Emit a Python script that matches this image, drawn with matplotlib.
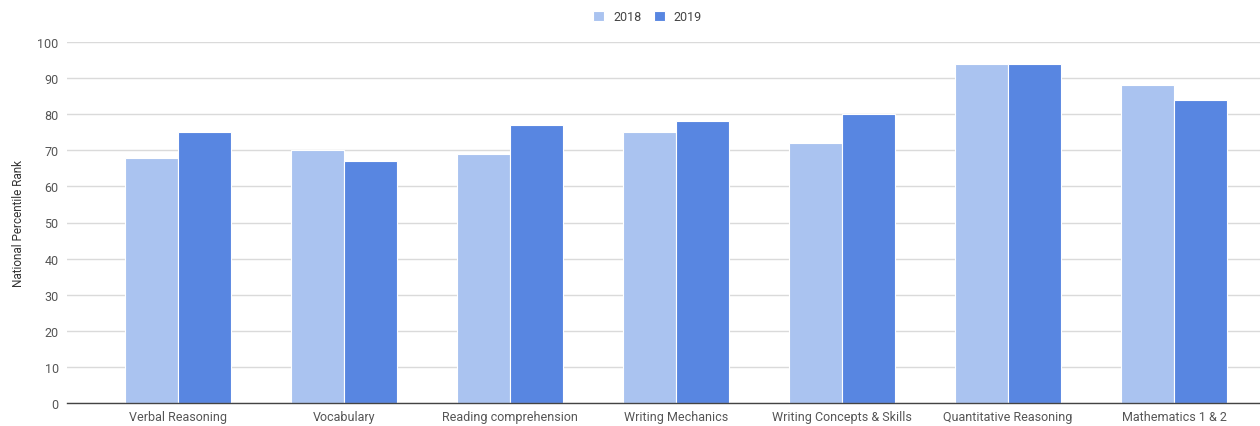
import matplotlib.pyplot as plt
import numpy as np

plt.rcParams['font.family'] = ['Roboto', 'DejaVu Sans']

categories = ["Verbal Reasoning", "Vocabulary", "Reading comprehension",
              "Writing Mechanics", "Writing Concepts & Skills",
              "Quantitative Reasoning", "Mathematics 1 & 2"]
scores_2018 = [68, 70, 69, 75, 72, 94, 88]
scores_2019 = [75, 67, 77, 78, 80, 94, 84]

c2018 = '#aac3f0'
c2019 = '#5886e1'

fig = plt.figure(figsize=(12.6, 4.27), dpi=100)
ax = fig.add_axes([67/1260, 1 - 404/427, (1260-67)/1260, (404-43)/427])

x = np.arange(len(categories))
w = 0.318
ax.bar(x - w/2, scores_2018, w, color=c2018, edgecolor='white', linewidth=0.8, label='2018', zorder=3)
ax.bar(x + w/2, scores_2019, w, color=c2019, edgecolor='white', linewidth=0.8, label='2019', zorder=3)

ax.set_xlim(-0.669, 6.518)
ax.set_ylim(0, 100)
ax.set_yticks(range(0, 101, 10))
ax.set_xticks(x)
ax.set_xticklabels(categories)
ax.grid(axis='y', color='#dadada', linewidth=1, zorder=0)
ax.tick_params(axis='both', length=0, labelsize=9, labelcolor='#555555')
ax.tick_params(axis='y', pad=6)
ax.tick_params(axis='x', pad=5)
for s in ['top', 'right', 'left']:
    ax.spines[s].set_visible(False)
ax.spines['bottom'].set_color('#444444')
ax.spines['bottom'].set_linewidth(1)
ax.spines['bottom'].set_zorder(4)

ax.set_ylabel("National Percentile Rank", fontsize=8.5, color='#333333', labelpad=9)

ax.legend(loc='upper center', bbox_to_anchor=(0.5 - 16/1193, 1 + 43/361), ncol=2, frameon=False,
          fontsize=9, handlelength=0.9, handleheight=0.9, columnspacing=1.0, handletextpad=0.7,
          labelcolor='#444444')

fig.savefig('out.png', dpi=100)
